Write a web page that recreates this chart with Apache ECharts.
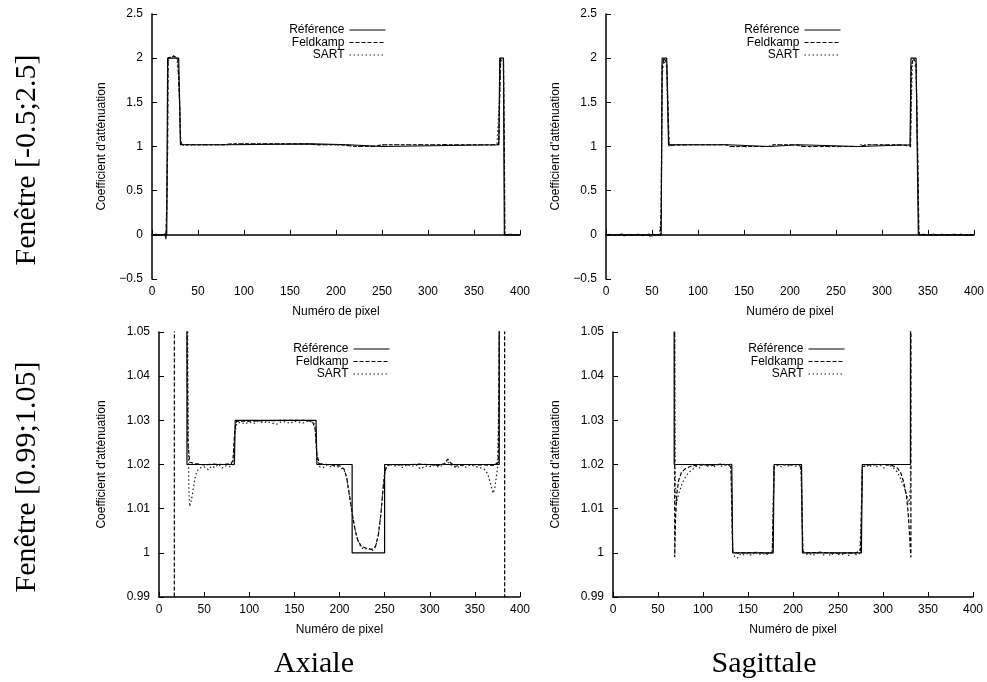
<!DOCTYPE html>
<html>
<head>
<meta charset="utf-8">
<title>Profils axial / sagittal</title>
<style>
  html, body { margin: 0; padding: 0; background: #fff; }
  #chart { width: 987px; height: 682px; }
</style>
</head>
<body>
<div id="chart"></div>
<script src="https://cdn.jsdelivr.net/npm/echarts@6/dist/echarts.min.js"></script>
<script>
// profils : [numero de pixel, coefficient]
var legendNames = ['Référence', 'Feldkamp', 'SART'];
var xTicks = [0, 400, 50];

var axialRef = [[0,0],[16,0],[17,2],[29,2],[31,1.02],[83.5,1.02],[84.5,1.03],[174,1.03],[175,1.02],[214,1.02],[214,1],[250,1],[250,1.02],[377,1.02],[378,2],[382,2],[383,0],[400,0]];

var axialFeld = [[0,0],[5,0.005],[10,-0.005],[14,0.01],[15,-0.05],[16,0.3],[17,1.0],[17.5,2.0],[20,2.01],[24,2.02],[28,2.0],[30,1.5],[31,1.06],[32,1.025],[34,1.0205],[40,1.0202],[50,1.0199],[60,1.0201],[70,1.02],[80,1.0202],[82,1.021],[84,1.028],[86,1.0298],[100,1.0298],[120,1.0299],[140,1.03],[160,1.03],[170,1.0298],[173,1.028],[175,1.022],[178,1.0202],[190,1.0199],[200,1.0197],[205,1.019],[208,1.017],[211,1.013],[214,1.009],[217,1.0055],[220,1.003],[224,1.0015],[230,1.001],[236,1.0008],[240,1.0015],[243,1.004],[246,1.009],[248,1.014],[250,1.018],[252,1.0195],[256,1.02],[270,1.0199],[290,1.0201],[310,1.0198],[316,1.0202],[320,1.0212],[323,1.0204],[328,1.0196],[340,1.02],[360,1.0199],[370,1.0198],[376,1.0205],[377,1.05],[378,1.6],[379,2.0],[382,2.0],[383,1.0],[383.5,0],[384,-0.01],[390,0.005],[400,0]];

var axialSart = [[0,0],[4,0.01],[8,-0.01],[12,0.005],[15,-0.03],[16,0.2],[17.5,1.95],[19,2.0],[23,2.03],[27,2.0],[29,1.8],[31,1.1],[32,1.04],[33,1.015],[34,1.0105],[36,1.012],[38,1.0145],[40,1.017],[42,1.0185],[45,1.0192],[50,1.0195],[55,1.0188],[58,1.0196],[62,1.0193],[66,1.0201],[70,1.0192],[74,1.0197],[78,1.0195],[82,1.0199],[84,1.027],[86,1.0292],[90,1.0296],[95,1.0292],[100,1.0296],[105,1.0293],[110,1.0298],[115,1.0294],[120,1.0297],[125,1.0294],[130,1.0291],[135,1.0296],[140,1.0297],[145,1.0293],[150,1.0298],[155,1.0296],[160,1.0294],[165,1.0299],[170,1.0296],[173,1.029],[175,1.0215],[178,1.0195],[182,1.0193],[186,1.0199],[190,1.0195],[195,1.0197],[200,1.0193],[205,1.0188],[208,1.017],[211,1.013],[214,1.009],[217,1.0055],[220,1.003],[224,1.0012],[228,1.0008],[232,1.0011],[236,1.0004],[240,1.0014],[243,1.004],[246,1.009],[248,1.014],[250,1.0178],[252,1.0196],[256,1.0201],[260,1.0196],[265,1.0199],[270,1.0193],[275,1.02],[280,1.0196],[285,1.0199],[290,1.019],[295,1.0197],[300,1.0195],[305,1.0198],[310,1.0194],[315,1.0199],[320,1.0205],[325,1.0197],[330,1.0192],[335,1.0198],[340,1.0194],[345,1.0199],[350,1.0196],[355,1.0193],[360,1.019],[364,1.018],[367,1.016],[370,1.0135],[372,1.0145],[375,1.019],[377,1.04],[378,1.6],[379,1.98],[382,1.95],[383,0.8],[383.5,0.02],[386,-0.01],[390,0.008],[395,-0.005],[400,0]];

var sagRef = [[0,0],[60,0],[61,2],[66,2],[68,1.02],[132,1.02],[133,1],[178,1],[179,1.02],[209.5,1.02],[210.5,1],[276,1],[277,1.02],[330.5,1.02],[331.5,2],[337,2],[339.5,0],[400,0]];

var sagFeld = [[0,0],[5,0.008],[10,-0.006],[15,0.005],[20,-0.01],[25,0.004],[30,-0.005],[35,0.007],[40,-0.008],[45,0.003],[48,-0.015],[52,0.006],[56,-0.004],[59,0.005],[60,0.3],[61,1.9],[63,2.0],[66,1.95],[67,1.6],[68.6,0.999],[69.5,1.008],[71,1.0135],[73,1.0165],[76,1.0182],[80,1.019],[85,1.0195],[90,1.0198],[100,1.0199],[110,1.0198],[120,1.0201],[128,1.0199],[131,1.0195],[132,1.01],[133,1.0003],[136,1.0],[145,1.0],[160,1.0001],[170,0.9999],[177,1.0],[178,1.01],[179,1.0195],[182,1.02],[195,1.0199],[207,1.02],[209,1.019],[210,1.01],[211,1.0003],[215,1.0],[230,1.0001],[250,0.9999],[270,1.0],[275,1.0005],[276,1.01],[277,1.0195],[285,1.0199],[300,1.02],[310,1.0198],[316,1.0192],[320,1.018],[323,1.016],[326,1.013],[328,1.009],[331,0.999],[332,1.9],[334,2.0],[337,1.95],[339,0.8],[340,0.05],[341,0],[345,0.006],[350,-0.005],[355,0.004],[360,-0.007],[365,0.005],[370,-0.004],[380,0.006],[390,-0.005],[400,0]];

var sagSart = [[0,0],[3,-0.01],[7,0.006],[12,-0.008],[17,0.01],[22,-0.005],[27,0.008],[32,-0.01],[37,0.005],[42,-0.007],[47,0.009],[50,-0.012],[54,0.004],[58,-0.006],[60,0.2],[61,1.8],[63,1.97],[66,1.9],[67,1.4],[68.5,1.06],[69,1.02],[70,1.011],[72,1.0125],[74,1.014],[77,1.0158],[80,1.017],[84,1.0182],[88,1.0188],[92,1.0196],[96,1.0192],[100,1.0203],[104,1.0195],[108,1.0199],[112,1.0194],[116,1.02],[120,1.0196],[124,1.0199],[128,1.0197],[131,1.0203],[132,1.012],[133,1.001],[135,0.9992],[138,0.9988],[142,0.9998],[146,0.9995],[150,0.9999],[154,0.9994],[158,1.0002],[162,0.9996],[166,0.9999],[170,0.9995],[174,1.0001],[177,0.9998],[178,1.011],[179,1.0193],[183,1.0198],[187,1.0195],[191,1.02],[195,1.0197],[199,1.0199],[203,1.0196],[207,1.0199],[209,1.0185],[210,1.009],[211,1.0003],[214,0.9996],[218,0.9999],[222,0.9994],[226,0.9998],[230,1.0003],[234,0.9995],[238,1.0001],[242,0.9993],[246,1.0002],[250,0.9997],[254,0.9995],[258,1.0001],[262,0.9994],[266,0.9999],[270,0.9996],[274,0.9998],[276,1.008],[277,1.0192],[281,1.0199],[285,1.0194],[289,1.0201],[293,1.0195],[297,1.0198],[301,1.0192],[305,1.0199],[309,1.0196],[312,1.0192],[315,1.0185],[318,1.0175],[321,1.016],[324,1.0145],[327,1.0125],[329,1.011],[330.5,1.015],[331.5,1.3],[333,1.95],[337,1.9],[339,0.8],[340,0.02],[342,-0.008],[346,0.007],[351,-0.006],[356,0.009],[361,-0.004],[366,0.006],[371,-0.009],[376,0.005],[381,-0.006],[386,0.008],[391,-0.005],[396,0.004],[400,0]];

var fontSans = '"Liberation Sans", Arial, sans-serif';
var fontSerif = '"Liberation Serif", "Times New Roman", serif';

// une case par graphe : position, fenetre en y, donnees
var panels = [
  { grid: { left: 152, right: 467, top: 14, bottom: 403 }, y: [-0.5, 2.5, 0.5], gap: 44, legend: { right: 596, top: 19 }, data: [axialRef, axialFeld, axialSart] },
  { grid: { left: 606, right: 13, top: 14, bottom: 403 }, y: [-0.5, 2.5, 0.5], gap: 44, legend: { right: 141, top: 19 }, data: [sagRef, sagFeld, sagSart] },
  { grid: { left: 159, right: 467, top: 332, bottom: 85 }, y: [0.99, 1.05, 0.01], gap: 51, legend: { right: 592, top: 338 }, data: [axialRef, axialFeld, axialSart] },
  { grid: { left: 613, right: 14, top: 332, bottom: 85 }, y: [0.99, 1.05, 0.01], gap: 51, legend: { right: 137, top: 338 }, data: [sagRef, sagFeld, sagSart] }
];

var lineStyles = [
  { color: '#000', width: 1.2, type: 'solid' },
  { color: '#000', width: 1.2, type: [4, 2] },
  { color: '#222', width: 1.2, type: [1.5, 2.5] }
];

function fmt(v) {
  return String(+v.toFixed(3)).replace('-', '\u2212');
}

// comme gnuplot : un segment dont les deux bouts sont hors fenetre n'est pas trace
function clipTwo(d, lo, hi) {
  var out = [];
  var outside = function (v) { return v < lo - 1e-9 || v > hi + 1e-9; };
  for (var j = 0; j < d.length; j++) {
    if (j > 0 && outside(d[j - 1][1]) && outside(d[j][1])) {
      out.push([(d[j - 1][0] + d[j][0]) / 2, '-']);
    }
    out.push(d[j]);
  }
  return out;
}

var grids = [], xAxes = [], yAxes = [], legends = [], series = [];
panels.forEach(function (p, i) {
  grids.push(Object.assign({ outerBoundsMode: 'none' }, p.grid));
  xAxes.push({
    type: 'value', gridIndex: i, min: xTicks[0], max: xTicks[1], interval: xTicks[2],
    name: 'Numéro de pixel', nameLocation: 'middle', nameGap: 27,
    nameTextStyle: { color: '#000', fontSize: 12, fontFamily: fontSans },
    axisLine: { show: true, lineStyle: { color: '#000', width: 1.5 } },
    axisTick: { show: true, inside: true, length: 5, lineStyle: { color: '#000' } },
    axisLabel: { color: '#000', fontSize: 12, fontFamily: fontSans, margin: 7, formatter: fmt },
    splitLine: { show: false }
  });
  yAxes.push({
    type: 'value', gridIndex: i, min: p.y[0], max: p.y[1], interval: p.y[2],
    name: 'Coefficient d\'atténuation', nameLocation: 'middle', nameGap: p.gap,
    nameTextStyle: { color: '#000', fontSize: 12, fontFamily: fontSans },
    axisLine: { show: true, lineStyle: { color: '#000', width: 1.5 } },
    axisTick: { show: true, inside: true, length: 5, lineStyle: { color: '#000' } },
    axisLabel: { color: '#000', fontSize: 12, fontFamily: fontSans, margin: 9, formatter: fmt },
    splitLine: { show: false }
  });
  legends.push({
    right: p.legend.right, top: p.legend.top, orient: 'vertical', align: 'right',
    itemWidth: 36, itemHeight: 12, itemGap: 0.5, selectedMode: false,
    itemStyle: { opacity: 0 },
    lineStyle: { width: 1 },
    textStyle: { color: '#000', fontSize: 12, fontFamily: fontSans, lineHeight: 12 },
    data: legendNames
  });
  p.data.forEach(function (d, k) {
    series.push({
      name: legendNames[k], type: 'line', xAxisIndex: i, yAxisIndex: i,
      data: clipTwo(d, p.y[0], p.y[1]), symbol: 'none', showSymbol: false, clip: true,
      connectNulls: false,
      lineStyle: lineStyles[k], itemStyle: { color: lineStyles[k].color }
    });
  });
});

var myChart = echarts.init(document.getElementById('chart'));
var option = {
  backgroundColor: '#fff',
  animation: false,
  grid: grids,
  xAxis: xAxes,
  yAxis: yAxes,
  legend: legends,
  series: series,
  graphic: [
    { type: 'text', x: 27, y: 160, rotation: Math.PI / 2, style: { text: 'Fenêtre [-0.5;2.5]', font: '30px ' + fontSerif, align: 'center', verticalAlign: 'middle', fill: '#000' } },
    { type: 'text', x: 27, y: 477, rotation: Math.PI / 2, style: { text: 'Fenêtre [0.99;1.05]', font: '30px ' + fontSerif, align: 'center', verticalAlign: 'middle', fill: '#000' } },
    { type: 'text', x: 314, y: 664, style: { text: 'Axiale', font: '30px ' + fontSerif, align: 'center', verticalAlign: 'middle', fill: '#000' } },
    { type: 'text', x: 764, y: 664, style: { text: 'Sagittale', font: '30px ' + fontSerif, align: 'center', verticalAlign: 'middle', fill: '#000' } }
  ]
};
myChart.setOption(option);
</script>
</body>
</html>
